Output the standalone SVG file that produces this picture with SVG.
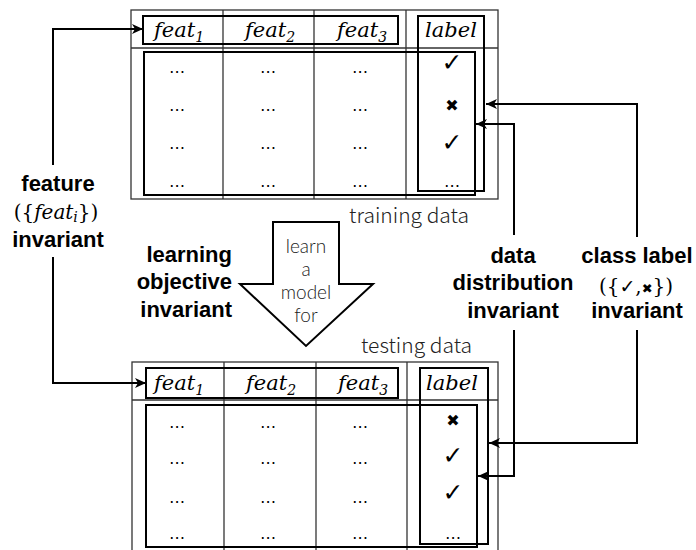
<svg xmlns="http://www.w3.org/2000/svg" width="696" height="550" viewBox="0 0 696 550">
<defs>
<style>
.outer{fill:none;stroke:#333;stroke-width:1.3}
.grid{stroke:#333;stroke-width:1.3}
.box{fill:none;stroke:#000;stroke-width:2}
.hdr{font-family:"DejaVu Serif",serif;font-style:italic;font-size:21px;fill:#000;text-anchor:middle}
.sub{font-size:14px}
.dots{font-family:"DejaVu Sans",sans-serif;font-size:16px;fill:#000;text-anchor:middle}
.chk{font-family:"DejaVu Sans",sans-serif;font-size:25px;fill:#000;text-anchor:middle}
.crs{font-family:"DejaVu Sans",sans-serif;font-size:16px;fill:#000;text-anchor:middle}
.cap{font-family:"Noto Sans CJK SC","Noto Sans",sans-serif;font-weight:300;font-size:21px;fill:#222}
.capm{font-family:Lato,"Liberation Sans",sans-serif;font-weight:300;font-size:19px;fill:#222;text-anchor:middle}
.bold{font-family:"Liberation Sans",Arial,sans-serif;font-weight:bold;font-size:22px;fill:#000;text-anchor:middle}
.boldr{font-family:"Liberation Sans",Arial,sans-serif;font-weight:bold;font-size:22px;fill:#000;text-anchor:end}
.math{font-family:"DejaVu Serif",serif;font-size:20px;fill:#000;text-anchor:middle}
.conn{fill:none;stroke:#000;stroke-width:2}
</style>
<marker id="ah" markerUnits="userSpaceOnUse" markerWidth="12" markerHeight="10" refX="11" refY="5" orient="auto">
<path d="M0,0 L11,5 L0,10 L3,5 Z" fill="#000"/>
</marker>
</defs>
<rect width="696" height="550" fill="#fff"/>

<g id="training-table">
<rect class="outer" x="131" y="10" width="367" height="189"/>
<line class="grid" x1="131" y1="48" x2="498" y2="48"/>
<line class="grid" x1="223" y1="10" x2="223" y2="199"/>
<line class="grid" x1="314" y1="10" x2="314" y2="199"/>
<line class="grid" x1="406" y1="10" x2="406" y2="199"/>
<rect class="box" x="143" y="16" width="255" height="28"/>
<rect class="box" x="418" y="16" width="66" height="175"/>
<rect class="box" x="144" y="52" width="331" height="143"/>
<text class="hdr" x="179" y="37">feat<tspan class="sub" dy="5">1</tspan></text>
<text class="hdr" x="270" y="37">feat<tspan class="sub" dy="5">2</tspan></text>
<text class="hdr" x="362" y="37">feat<tspan class="sub" dy="5">3</tspan></text>
<text class="hdr" x="451" y="37">label</text>
<g class="dots">
<text x="177" y="77">⋯</text><text x="268" y="77">⋯</text><text x="360" y="77">⋯</text>
<text x="177" y="115">⋯</text><text x="268" y="115">⋯</text><text x="360" y="115">⋯</text>
<text x="177" y="153">⋯</text><text x="268" y="153">⋯</text><text x="360" y="153">⋯</text>
<text x="177" y="191">⋯</text><text x="268" y="191">⋯</text><text x="360" y="191">⋯</text>
<text x="452" y="191">⋯</text>
</g>
<text class="chk" x="452" y="71">✓</text>
<text class="crs" x="452" y="111">✖</text>
<text class="chk" x="452" y="151">✓</text>
<text class="cap" x="349" y="223">training data</text>
</g>

<g id="testing-table">
<rect class="outer" x="132" y="362" width="366" height="200"/>
<line class="grid" x1="132" y1="400" x2="498" y2="400"/>
<line class="grid" x1="224" y1="362" x2="224" y2="562"/>
<line class="grid" x1="316" y1="362" x2="316" y2="562"/>
<line class="grid" x1="407" y1="362" x2="407" y2="562"/>
<rect class="box" x="146" y="368" width="252" height="30"/>
<rect class="box" x="420" y="368" width="68" height="176"/>
<rect class="box" x="146" y="405" width="331" height="142"/>
<text class="hdr" x="179" y="390">feat<tspan class="sub" dy="5">1</tspan></text>
<text class="hdr" x="271" y="390">feat<tspan class="sub" dy="5">2</tspan></text>
<text class="hdr" x="363" y="390">feat<tspan class="sub" dy="5">3</tspan></text>
<text class="hdr" x="452" y="390">label</text>
<g class="dots">
<text x="177" y="432">⋯</text><text x="268" y="432">⋯</text><text x="360" y="432">⋯</text>
<text x="177" y="468">⋯</text><text x="268" y="468">⋯</text><text x="360" y="468">⋯</text>
<text x="177" y="507">⋯</text><text x="268" y="507">⋯</text><text x="360" y="507">⋯</text>
<text x="177" y="543">⋯</text><text x="268" y="543">⋯</text><text x="360" y="543">⋯</text>
<text x="453" y="543">⋯</text>
</g>
<text class="crs" x="453" y="426">✖</text>
<text class="chk" x="453" y="464">✓</text>
<text class="chk" x="453" y="501">✓</text>
<text class="cap" x="361" y="353">testing data</text>
</g>

<g id="learn-arrow">
<polygon points="273,222 339,222 339,284 373,284 306,346 240,284 273,284" fill="#fff" stroke="#000" stroke-width="2"/>
<text class="capm" x="306" y="253">learn</text>
<text class="capm" x="306" y="276">a</text>
<text class="capm" x="306" y="299">model</text>
<text class="capm" x="306" y="322">for</text>
</g>

<g id="feature-invariant">
<text class="bold" x="58" y="191">feature</text>
<text class="math" x="56" y="219">({<tspan font-style="italic">feat</tspan><tspan font-style="italic" font-size="14" dy="3">i</tspan><tspan dy="-3">})</tspan></text>
<text class="bold" x="58" y="247">invariant</text>
</g>

<g id="learning-objective-invariant">
<text class="boldr" x="232" y="262">learning</text>
<text class="boldr" x="232" y="289">objective</text>
<text class="boldr" x="232" y="317">invariant</text>
</g>

<g id="data-distribution-invariant">
<text class="bold" x="513" y="263">data</text>
<text class="bold" x="513" y="290">distribution</text>
<text class="bold" x="513" y="318">invariant</text>
</g>

<g id="class-label-invariant">
<text class="bold" x="637" y="263">class label</text>
<text class="math" x="636" y="293" font-size="18">({<tspan font-family="DejaVu Sans" font-size="19">✓</tspan>,<tspan font-family="DejaVu Sans" font-size="13">✖</tspan>})</text>
<text class="bold" x="637" y="318">invariant</text>
</g>

<g id="connectors">
<path class="conn" d="M53,165 V29 H143" marker-end="url(#ah)"/>
<path class="conn" d="M53,257 V383 H146" marker-end="url(#ah)"/>
<path class="conn" d="M637,237 V104 H486" marker-end="url(#ah)"/>
<path class="conn" d="M637,330 V443 H489" marker-end="url(#ah)"/>
<path class="conn" d="M514,235 V124 H476" marker-end="url(#ah)"/>
<path class="conn" d="M514,330 V476 H478" marker-end="url(#ah)"/>
</g>
</svg>
